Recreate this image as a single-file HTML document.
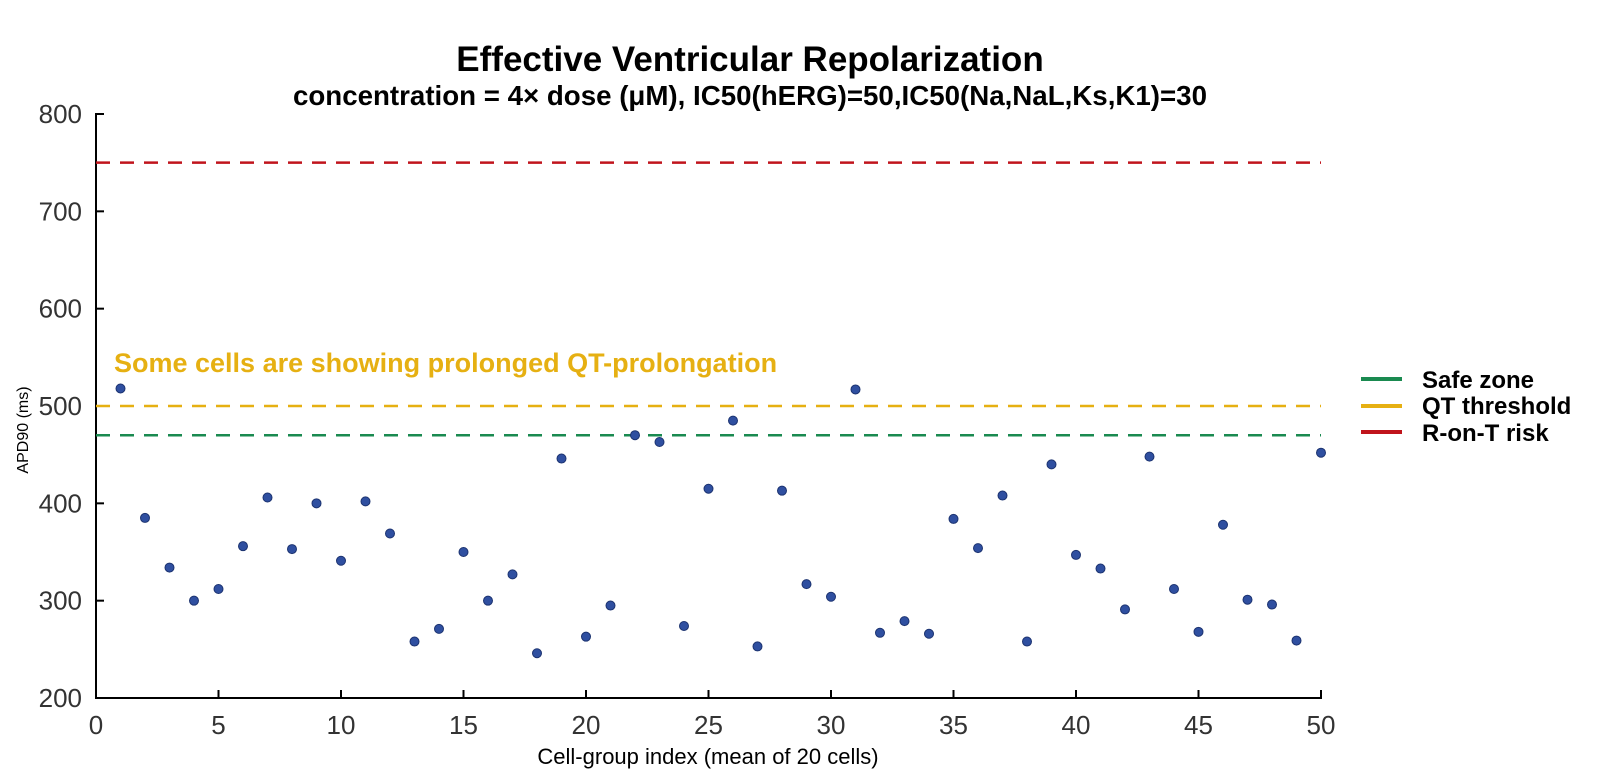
<!DOCTYPE html>
<html><head><meta charset="utf-8"><style>
body{margin:0;background:#fff;font-family:"Liberation Sans",Arial,sans-serif}
svg text{font-family:"Liberation Sans",Arial,sans-serif}
</style></head><body>
<svg id="chart" width="1600" height="777">
<text x="750" y="71" text-anchor="middle" font-size="35" font-weight="bold">Effective Ventricular Repolarization</text>
<text x="750" y="105" text-anchor="middle" font-size="27.7" font-weight="bold">concentration = 4× dose (μM), IC50(hERG)=50,IC50(Na,NaL,Ks,K1)=30</text>
<text x="114" y="372" font-size="27" font-weight="bold" fill="#e6b012">Some cells are showing prolonged QT-prolongation</text>
<g id="axes"></g>
<g id="lines"></g>
<g id="points"></g>
<text transform="translate(28,430) rotate(-90)" text-anchor="middle" font-size="16">APD90 (ms)</text>
<text x="708" y="764" text-anchor="middle" font-size="22">Cell-group index (mean of 20 cells)</text>
<g>
<line x1="1361" x2="1402" y1="379" y2="379" stroke="#1a8a50" stroke-width="4"/>
<text x="1422" y="388" font-size="24" font-weight="bold">Safe zone</text>
<line x1="1361" x2="1402" y1="406" y2="406" stroke="#e6b012" stroke-width="4"/>
<text x="1422" y="414" font-size="24" font-weight="bold">QT threshold</text>
<line x1="1361" x2="1402" y1="432" y2="432" stroke="#c0141c" stroke-width="4"/>
<text x="1422" y="441" font-size="24" font-weight="bold">R-on-T risk</text>
</g>
</svg>
<script>
const apd = [518,385,334,300,312,356,406,353,400,341,402,369,258,271,350,300,327,246,446,263,295,470,463,274,415,485,253,413,317,304,517,267,279,266,384,354,408,258,440,347,333,291,448,312,268,378,301,296,259,452];
const yTicks = [200,300,400,500,600,700,800];
const xTicks = [0,5,10,15,20,25,30,35,40,45,50];
const thresholds = [750,500,470];
const thresholdColors = ['#c0141c','#e6b012','#1a8a50'];
const thresholdNames = ['r-on-t-line','qt-threshold-line','safe-zone-line'];
const NS='http://www.w3.org/2000/svg';
const X0=96,X1=1321,Y0=698,Y1=114;
const sx=v=>X0+(v-0)/(50-0)*(X1-X0);
const sy=v=>Y0-(v-200)/(800-200)*(Y0-Y1);
function mk(tag,attrs,parent){const e=document.createElementNS(NS,tag);for(const k in attrs)e.setAttribute(k,attrs[k]);parent.appendChild(e);return e;}
const ax=document.getElementById('axes');
let e=mk('path',{d:`M${X0+8},${Y1}H${X0}V${Y0}H${X1}V${Y0-8}`,fill:'none',stroke:'#000','stroke-width':2},ax);


yTicks.forEach(t=>{
  const l=mk('line',{x1:X0,x2:X0+8,y1:sy(t),y2:sy(t),stroke:'#000','stroke-width':2},ax);
  
  
  const tx=mk('text',{x:X0-14,y:sy(t)+9,'text-anchor':'end','font-size':26,fill:'#333'},ax);
  tx.textContent=t;
  
  
});
xTicks.forEach(t=>{
  const l=mk('line',{x1:sx(t),x2:sx(t),y1:Y0,y2:Y0-8,stroke:'#000','stroke-width':2},ax);
  
  
  const tx=mk('text',{x:sx(t),y:Y0+36,'text-anchor':'middle','font-size':26,fill:'#333'},ax);
  tx.textContent=t;
  
  
});
const lg=document.getElementById('lines');
thresholds.forEach((v,i)=>{
  const l=mk('line',{x1:sx(0),x2:sx(50),y1:sy(v),y2:sy(v),stroke:thresholdColors[i],'stroke-width':2.5,'stroke-dasharray':'14,10'},lg);
  
  
});
const pg=document.getElementById('points');
apd.forEach((v,i)=>{
  const c=mk('circle',{cx:sx(i+1),cy:sy(v),r:4.5,fill:'#2f4fa0',stroke:'#1c3370','stroke-width':1},pg);
  
  
});
</script>
</body></html>
